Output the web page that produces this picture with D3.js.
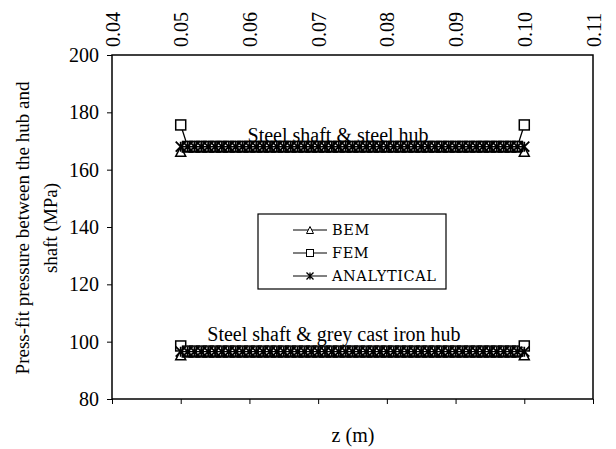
<!DOCTYPE html>
<html>
<head>
<meta charset="utf-8">
<script src="https://cdn.jsdelivr.net/npm/d3@7"></script>
<style>
body{margin:0;background:#fff;}
svg{display:block;font-family:"Liberation Serif","Times New Roman",serif;}
</style>
</head>
<body>
<svg id="chart" width="616" height="449"></svg>
<script>
// ---- data ----
const zValues = [0.050,0.051,0.052,0.053,0.054,0.055,0.056,0.057,0.058,0.059,
  0.060,0.061,0.062,0.063,0.064,0.065,0.066,0.067,0.068,0.069,
  0.070,0.071,0.072,0.073,0.074,0.075,0.076,0.077,0.078,0.079,
  0.080,0.081,0.082,0.083,0.084,0.085,0.086,0.087,0.088,0.089,
  0.090,0.091,0.092,0.093,0.094,0.095,0.096,0.097,0.098,0.099,0.100];

const steelBEM = [166.4,167.9,167.9,167.9,167.9,167.9,167.9,167.9,167.9,167.9,
  167.9,167.9,167.9,167.9,167.9,167.9,167.9,167.9,167.9,167.9,
  167.9,167.9,167.9,167.9,167.9,167.9,167.9,167.9,167.9,167.9,
  167.9,167.9,167.9,167.9,167.9,167.9,167.9,167.9,167.9,167.9,
  167.9,167.9,167.9,167.9,167.9,167.9,167.9,167.9,167.9,167.9,166.4];
const steelFEM = [175.6,168.1,168.1,168.1,168.1,168.1,168.1,168.1,168.1,168.1,
  168.1,168.1,168.1,168.1,168.1,168.1,168.1,168.1,168.1,168.1,
  168.1,168.1,168.1,168.1,168.1,168.1,168.1,168.1,168.1,168.1,
  168.1,168.1,168.1,168.1,168.1,168.1,168.1,168.1,168.1,168.1,
  168.1,168.1,168.1,168.1,168.1,168.1,168.1,168.1,168.1,168.1,175.6];
const steelANA = [168.0,168.0,168.0,168.0,168.0,168.0,168.0,168.0,168.0,168.0,
  168.0,168.0,168.0,168.0,168.0,168.0,168.0,168.0,168.0,168.0,
  168.0,168.0,168.0,168.0,168.0,168.0,168.0,168.0,168.0,168.0,
  168.0,168.0,168.0,168.0,168.0,168.0,168.0,168.0,168.0,168.0,
  168.0,168.0,168.0,168.0,168.0,168.0,168.0,168.0,168.0,168.0,168.0];
const greyBEM = [95.4,96.4,96.4,96.4,96.4,96.4,96.4,96.4,96.4,96.4,
  96.4,96.4,96.4,96.4,96.4,96.4,96.4,96.4,96.4,96.4,
  96.4,96.4,96.4,96.4,96.4,96.4,96.4,96.4,96.4,96.4,
  96.4,96.4,96.4,96.4,96.4,96.4,96.4,96.4,96.4,96.4,
  96.4,96.4,96.4,96.4,96.4,96.4,96.4,96.4,96.4,96.4,95.4];
const greyFEM = [98.5,96.7,96.7,96.7,96.7,96.7,96.7,96.7,96.7,96.7,
  96.7,96.7,96.7,96.7,96.7,96.7,96.7,96.7,96.7,96.7,
  96.7,96.7,96.7,96.7,96.7,96.7,96.7,96.7,96.7,96.7,
  96.7,96.7,96.7,96.7,96.7,96.7,96.7,96.7,96.7,96.7,
  96.7,96.7,96.7,96.7,96.7,96.7,96.7,96.7,96.7,96.7,98.5];
const greyANA = [96.5,96.5,96.5,96.5,96.5,96.5,96.5,96.5,96.5,96.5,
  96.5,96.5,96.5,96.5,96.5,96.5,96.5,96.5,96.5,96.5,
  96.5,96.5,96.5,96.5,96.5,96.5,96.5,96.5,96.5,96.5,
  96.5,96.5,96.5,96.5,96.5,96.5,96.5,96.5,96.5,96.5,
  96.5,96.5,96.5,96.5,96.5,96.5,96.5,96.5,96.5,96.5,96.5];

const xTicks = [0.04,0.05,0.06,0.07,0.08,0.09,0.10,0.11];
const xTickLabels = ["0.04","0.05","0.06","0.07","0.08","0.09","0.10","0.11"];
const yTicks = [80,100,120,140,160,180,200];
const legendNames = ["BEM","FEM","ANALYTICAL"];
const legendShapes = ["triangle","square","star"];
const annotations = [
  {text:"Steel shaft & steel hub", z:0.0729, v:169.8},
  {text:"Steel shaft & grey cast iron hub", z:0.0723, v:100.2}
];

// ---- layout ----
const svg = d3.select("#chart");
const L = 112, R = 593, T = 55, B = 399;
const FS = 20;
const x = d3.scaleLinear().domain([0.04,0.11]).range([L,R]);
const y = d3.scaleLinear().domain([80,200]).range([B,T]);

// frame
svg.append("rect").attr("x",L).attr("y",T).attr("width",R-L).attr("height",B-T)
  .attr("fill","none").attr("stroke","#000").attr("stroke-width",1.5);

// y axis
const yAxis = svg.append("g").attr("transform",`translate(${L},0)`)
  .call(d3.axisLeft(y).tickValues(yTicks).tickSize(5).tickPadding(8).tickFormat(d3.format("d")));
yAxis.attr("font-family",null).attr("font-size",null);
yAxis.select(".domain").remove();
yAxis.selectAll("line").attr("stroke","#000");
yAxis.selectAll("text").style("font-family","'Liberation Serif'").style("font-size",FS+"px").attr("fill","#000");

// bottom axis (ticks only)
const xAxisB = svg.append("g").attr("transform",`translate(0,${B})`)
  .call(d3.axisBottom(x).tickValues(xTicks).tickSize(5).tickFormat(""));
xAxisB.select(".domain").remove();
xAxisB.selectAll("line").attr("stroke","#000");

// top axis labels (rotated)
const xAxisT = svg.append("g").attr("transform",`translate(0,${T})`)
  .call(d3.axisTop(x).tickValues(xTicks).tickSize(0).tickPadding(0).tickFormat((d,i)=>xTickLabels[i]));
xAxisT.attr("font-family",null).attr("font-size",null);
xAxisT.select(".domain").remove();
xAxisT.selectAll("text")
  .style("font-family","'Liberation Serif'").style("font-size",FS+"px").attr("fill","#000")
  .attr("text-anchor","start")
  .attr("transform","translate(0,-8) rotate(-90)")
  .attr("x",0).attr("y",0).attr("dy","0.35em");

// axis titles
svg.append("text").attr("x",353).attr("y",442).attr("text-anchor","middle")
  .style("font-size",FS+"px").text("z (m)");
const yt = svg.append("text").attr("transform",`translate(22,${(T+B)/2+1}) rotate(-90)`)
  .attr("text-anchor","middle").style("font-size","19px");
yt.append("tspan").attr("x",0).attr("dy","0.35em").text("Press-fit pressure between the hub and");
yt.append("tspan").attr("x",0).attr("dy","1.47em").text("shaft (MPa)");

// symbols
function marker(g, shape, size, sw){
  if(shape==="triangle"){
    const h=size, w=size;
    g.append("path").attr("d",`M0,${-h/2}L${w/2},${h/2}L${-w/2},${h/2}Z`)
      .attr("fill","#fff").attr("stroke","#000").attr("stroke-width",sw);
  } else if(shape==="square"){
    g.append("rect").attr("x",-size/2).attr("y",-size/2).attr("width",size).attr("height",size)
      .attr("fill","#fff").attr("stroke","#000").attr("stroke-width",sw);
  } else {
    const s=size/2;
    g.append("path").attr("d",`M${-s},${-s}L${s},${s}M${-s},${s}L${s},${-s}M0,${-s}L0,${s}`)
      .attr("fill","none").attr("stroke","#000").attr("stroke-width",sw+0.3);
  }
}

const line = d3.line().x((d,i)=>x(zValues[i])).y(d=>y(d));
const seriesList = [
  {vals:steelBEM, shape:"triangle"},
  {vals:steelFEM, shape:"square"},
  {vals:steelANA, shape:"star"},
  {vals:greyBEM, shape:"triangle"},
  {vals:greyFEM, shape:"square"},
  {vals:greyANA, shape:"star"}
];
seriesList.forEach(s=>{
  svg.append("path").datum(s.vals).attr("d",line).attr("fill","none")
    .attr("stroke","#000").attr("stroke-width",1.3);
  s.vals.forEach((v,i)=>{
    const g = svg.append("g").attr("transform",`translate(${x(zValues[i])},${y(v)})`);
    marker(g, s.shape, 10, 1.5);
  });
});

// annotations
annotations.forEach(a=>{
  svg.append("text").attr("x",x(a.z)).attr("y",y(a.v)).attr("text-anchor","middle")
    .style("font-size",FS+"px").text(a.text);
});

// legend
const lg = svg.append("g").attr("transform","translate(258,214)");
lg.append("rect").attr("x",0).attr("y",0).attr("width",188).attr("height",75)
  .attr("fill","#fff").attr("stroke","#000").attr("stroke-width",1.2);
legendNames.forEach((n,i)=>{
  const yy = 16 + i*23;
  lg.append("line").attr("x1",35).attr("x2",69).attr("y1",yy).attr("y2",yy)
    .attr("stroke","#000").attr("stroke-width",1);
  const g = lg.append("g").attr("transform",`translate(52,${yy})`);
  marker(g, legendShapes[i], 7, 1);
  lg.append("text").attr("x",74).attr("y",yy).attr("dy","0.36em")
    .style("font-family","'DejaVu Serif'").style("font-size","14.5px")
    .attr("letter-spacing",0.6)
    .text(n);
});
</script>
</body>
</html>
